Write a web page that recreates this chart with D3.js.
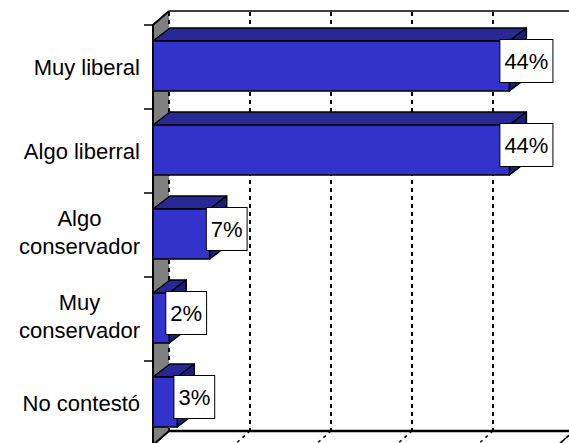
<!DOCTYPE html>
<html>
<head>
<meta charset="utf-8">
<script src="https://cdn.jsdelivr.net/npm/d3@7"></script>
<style>
  body { margin: 0; background: #fff; }
  svg { display: block; font-family: Arial, 'Liberation Sans', sans-serif; }
</style>
</head>
<body>
<div class="chart"></div>
<script>
// data
const categories = ['Muy liberal', 'Algo liberral', 'Algo conservador', 'Muy conservador', 'No contestó'];
const labelLines = [['Muy liberal'], ['Algo liberral'], ['Algo', 'conservador'], ['Muy', 'conservador'], ['No contestó']];
const values = [44, 44, 7, 2, 3];
const gridTicks = [0, 10, 20, 30, 40, 50];

const width = 569, height = 443;
const wallDx = 16, wallDy = 14;   // depth of walls
const barDx = 17, barDy = 13;     // depth of bars

const svg = d3.select('.chart')
              .append('svg')
              .attr('width', width)
              .attr('height', height);

const xScale = d3.scaleLinear()
                 .domain([0, 50])
                 .range([153, 558]);

const yScale = d3.scaleBand()
                 .domain(categories)
                 .range([25, 445])
                 .paddingInner(0.405)
                 .paddingOuter(0.2025);

const yTop = yScale.range()[0], yBot = yScale.range()[1];
const x0 = xScale(0), xMax = xScale(50);

// back wall
svg.append('rect')
   .attr('x', x0 + wallDx).attr('y', yTop - wallDy)
   .attr('width', xMax - x0).attr('height', yBot - yTop)
   .attr('fill', '#fff');
svg.append('line')
   .attr('x1', x0 + wallDx).attr('x2', xMax + wallDx)
   .attr('y1', yTop - wallDy).attr('y2', yTop - wallDy)
   .attr('stroke', '#000').attr('stroke-width', 1.5);

// floor
svg.append('polygon')
   .attr('points', [[x0, yBot], [x0 + wallDx, yBot - wallDy], [xMax + wallDx, yBot - wallDy], [xMax, yBot]].join(' '))
   .attr('fill', '#fff').attr('stroke', '#000').attr('stroke-width', 1.5);
svg.append('line')
   .attr('x1', x0 + wallDx).attr('x2', xMax + wallDx)
   .attr('y1', yBot - wallDy).attr('y2', yBot - wallDy)
   .attr('stroke', '#000').attr('stroke-width', 2.5);

// side wall (grey)
svg.append('polygon')
   .attr('points', [[x0, yTop], [x0 + wallDx, yTop - wallDy], [x0 + wallDx, yBot - wallDy], [x0, yBot]].join(' '))
   .attr('fill', '#808080');
svg.append('path')
   .attr('d', `M${x0 + wallDx},${yBot - wallDy}L${x0},${yBot}L${x0},${yTop}L${x0 + wallDx},${yTop - wallDy}`)
   .attr('fill', 'none').attr('stroke', '#000').attr('stroke-width', 2);

// dotted grid lines on back wall and floor
svg.selectAll('.grid')
   .data(gridTicks)
   .enter()
   .append('line')
   .attr('class', 'grid')
   .attr('x1', d => xScale(d) + wallDx).attr('x2', d => xScale(d) + wallDx)
   .attr('y1', yTop - wallDy + 1).attr('y2', yBot - wallDy)
   .attr('stroke', '#000').attr('stroke-width', 2)
   .attr('stroke-dasharray', '4,4');
svg.selectAll('.floorgrid')
   .data(gridTicks.slice(1))
   .enter()
   .append('line')
   .attr('class', 'floorgrid')
   .attr('x1', d => xScale(d) + wallDx).attr('x2', d => xScale(d))
   .attr('y1', yBot - wallDy).attr('y2', yBot)
   .attr('stroke', '#000').attr('stroke-width', 1.5)
   .attr('stroke-dasharray', '3,4');

// tick marks at the category boundaries
const step = yScale.step();
svg.selectAll('.ytick')
   .data(d3.range(categories.length + 1))
   .enter()
   .append('line')
   .attr('class', 'ytick')
   .attr('x1', x0 - 9).attr('x2', x0)
   .attr('y1', i => yTop + i * step).attr('y2', i => yTop + i * step)
   .attr('stroke', '#000').attr('stroke-width', 1.5);

// bars
const bars = svg.selectAll('.bar')
                .data(values)
                .enter()
                .append('g')
                .attr('class', 'bar');

const by0 = (d, i) => yScale(categories[i]) - 1;
const by1 = (d, i) => yScale(categories[i]) - 1 + yScale.bandwidth();

bars.append('polygon') // top face
    .attr('points', (d, i) => [[x0, by0(d, i)], [x0 + barDx, by0(d, i) - barDy],
                               [xScale(d) + barDx, by0(d, i) - barDy], [xScale(d), by0(d, i)]].join(' '))
    .attr('fill', '#282896').attr('stroke', '#000').attr('stroke-width', 1.5)
    .attr('stroke-linejoin', 'round');
bars.append('polygon') // side face
    .attr('points', (d, i) => [[xScale(d), by0(d, i)], [xScale(d) + barDx, by0(d, i) - barDy],
                               [xScale(d) + barDx, by1(d, i) - barDy], [xScale(d), by1(d, i)]].join(' '))
    .attr('fill', '#1e1e78').attr('stroke', '#000').attr('stroke-width', 1.5)
    .attr('stroke-linejoin', 'round');
bars.append('rect') // front face
    .attr('x', x0)
    .attr('y', (d, i) => by0(d, i))
    .attr('width', d => xScale(d) - x0)
    .attr('height', yScale.bandwidth())
    .attr('fill', '#3333cc').attr('stroke', '#000').attr('stroke-width', 1.5);

// value labels in white boxes
const labels = svg.selectAll('.vlabel')
                  .data(values)
                  .enter()
                  .append('g')
                  .attr('class', 'vlabel')
                  .attr('transform', (d, i) => `translate(${xScale(d) + barDx}, ${yScale(categories[i]) - 1 + yScale.bandwidth() / 2 - 5})`);

labels.append('rect');
labels.append('text')
      .attr('text-anchor', 'middle')
      .attr('y', 8)
      .attr('font-size', 22)
      .attr('fill', '#000')
      .text(d => d + '%');
labels.each(function() {
    const g = d3.select(this);
    const w = g.select('text').node().getComputedTextLength() + 9;
    g.select('rect')
     .attr('x', -w / 2).attr('y', -21.5)
     .attr('width', w).attr('height', 43)
     .attr('fill', '#fff').attr('stroke', '#000').attr('stroke-width', 1);
});

// category labels
const catLabels = svg.selectAll('.clabel')
                     .data(labelLines)
                     .enter()
                     .append('text')
                     .attr('class', 'clabel')
                     .attr('font-size', 22)
                     .attr('fill', '#000')
                     .attr('text-anchor', 'middle');

catLabels.each(function(lines, i) {
    const t = d3.select(this);
    const cy = yTop + (i + 0.5) * step;
    const firstBase = lines.length === 1 ? cy + 7.5 : cy - 9.5;
    lines.forEach((s, j) => {
        t.append('tspan').attr('y', firstBase + j * 28).text(s);
    });
    let maxW = 0;
    t.selectAll('tspan').each(function() { maxW = Math.max(maxW, this.getComputedTextLength()); });
    t.selectAll('tspan').attr('x', 140 - maxW / 2);
});
</script>
</body>
</html>
